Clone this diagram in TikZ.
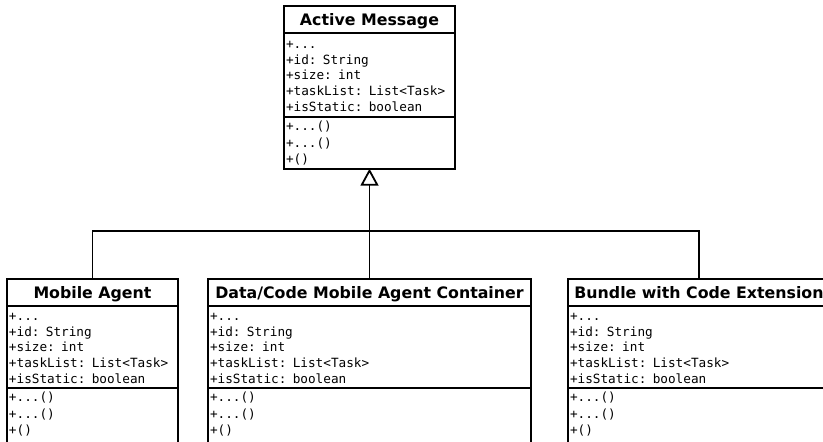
\documentclass[tikz,border=0pt]{standalone}
\usepackage{fontspec}
\setmainfont{DejaVu Sans}
\setmonofont{DejaVu Sans Mono}
\usetikzlibrary{positioning,arrows.meta}
\begin{document}
\begin{tikzpicture}[x=1pt, y=-1pt, line width=1.8pt, every node/.style={outer sep=0pt},
		classtitle/.style={draw, minimum width=#1, minimum height=27pt, inner sep=0pt, text height=13pt, text depth=2pt, font=\fontsize{15.8}{19}\selectfont\bfseries},
		classbody/.style={draw, text width=#1, align=left, inner xsep=2pt, inner ysep=3.5pt, execute at begin node={\rule{0pt}{10pt}}},
		attrs/.style={minimum height=84pt, font=\fontsize{12.7}{15.7}\selectfont\ttfamily},
		ops/.style={minimum height=51pt, font=\fontsize{12.7}{16.5}\selectfont\ttfamily},
		opslow/.style={ops, execute at end node={\rule[-6pt]{0pt}{0pt}}}]
				% 1. 画布大小
				\useasboundingbox (0,0) rectangle (823,442);
				\clip (0,0) rectangle (823,442);
				
				% 2. 父类
				\node[classtitle=171pt, anchor=north west] (am) at (284,6) {Active Message};
				\node[classbody=167pt, attrs, below=0pt of am] (amAttr) {+...\\+id: String\\+size: int\\+taskList: List<Task>\\+isStatic: boolean};
				\node[classbody=167pt, ops, below=0pt of amAttr] (amOps) {+...()\\+...()\\+()};
				
				% 3. 子类
				\node[classtitle=171pt, anchor=north west] (ma) at (7,279) {Mobile Agent};
				\node[classbody=167pt, attrs, minimum height=82pt, below=0pt of ma] (maAttr) {+...\\+id: String\\+size: int\\+taskList: List<Task>\\+isStatic: boolean};
				\node[classbody=167pt, opslow, below=0pt of maAttr] (maOps) {+...()\\+...()\\+()};
				
				\node[classtitle=323pt, anchor=north west] (dc) at (208,279) {Data/Code Mobile Agent Container};
				\node[classbody=319pt, attrs, minimum height=82pt, below=0pt of dc] (dcAttr) {+...\\+id: String\\+size: int\\+taskList: List<Task>\\+isStatic: boolean};
				\node[classbody=319pt, opslow, below=0pt of dcAttr] (dcOps) {+...()\\+...()\\+()};
				
				\node[classtitle=262pt, anchor=north west] (bc) at (568,279) {Bundle with Code Extension};
				\node[classbody=258pt, attrs, minimum height=82pt, below=0pt of bc] (bcAttr) {+...\\+id: String\\+size: int\\+taskList: List<Task>\\+isStatic: boolean};
				\node[classbody=258pt, opslow, below=0pt of bcAttr] (bcOps) {+...()\\+...()\\+()};
				
				% 4. 继承关系
				\coordinate (bus) at (369.5,231);
				\draw (ma.north) |- (bus) -| (bc.north);
				\draw[-{Triangle[open, length=17pt, width=18pt]}] (dc.north) -- (amOps.south);
\end{tikzpicture}
\end{document}
